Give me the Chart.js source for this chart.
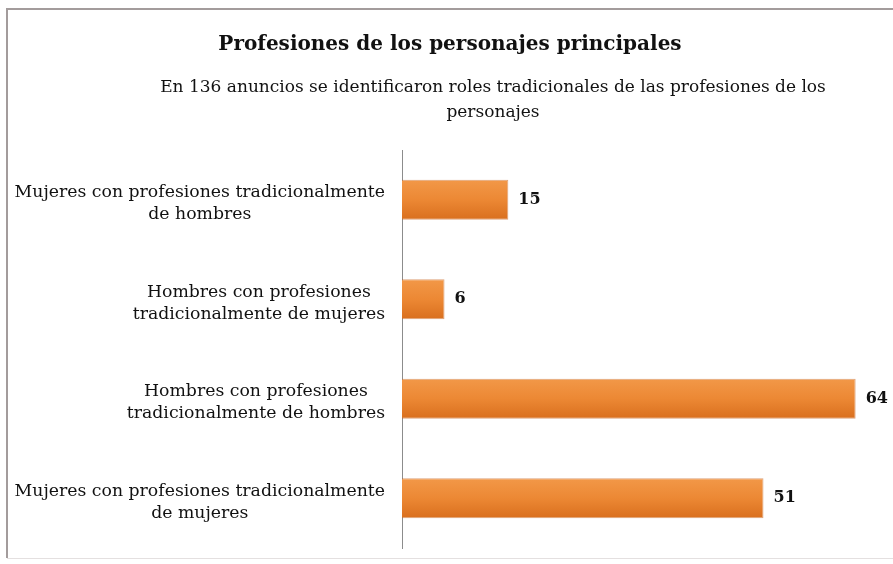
<!DOCTYPE html>
<html>
<head>
<meta charset="utf-8">
<script src="https://cdn.jsdelivr.net/npm/chart.js@4.4.1/dist/chart.umd.min.js"></script>
<style>
    html, body { margin: 0; padding: 0; background: #ffffff; }
    #chart_wrap { position: relative; width: 893px; height: 564px; }
</style>
</head>
<body>
<div id="chart_wrap"><canvas id="prof_chart" width="893" height="564"></canvas></div>
<script>
const category_labels = [
    ['Mujeres con profesiones tradicionalmente', 'de hombres'],
    ['Hombres con profesiones', 'tradicionalmente de mujeres'],
    ['Hombres con profesiones', 'tradicionalmente de hombres'],
    ['Mujeres con profesiones tradicionalmente', 'de mujeres'],
];
const anuncios_values = [15, 6, 64, 51];
const title_text = 'Profesiones de los personajes principales';
const subtitle_lines = [
    'En 136 anuncios se identificaron roles tradicionales de las profesiones de los',
    'personajes',
];

const prof_palette = {
    bar_top: '#f29848',
    bar_mid: '#ec8834',
    bar_bottom: '#d96f1e',
    axis: '#8c8c8c',
    text: '#111111',
    frame: '#a39c9c',
};

const serif_font = '"DejaVu Serif", "Liberation Serif", serif';

// frame, title, subtitle and the two-line category labels
const prof_text_plugin = {
    id: 'prof_text',
    beforeDraw(chart) {
        const ctx = chart.ctx;
        ctx.save();
        ctx.fillStyle = '#ffffff';
        ctx.fillRect(0, 0, chart.width, chart.height);
        ctx.strokeStyle = prof_palette.frame;
        ctx.lineWidth = 2;
        ctx.beginPath();
        ctx.moveTo(893, 9);
        ctx.lineTo(7, 9);
        ctx.lineTo(7, 558);
        ctx.stroke();
        ctx.strokeStyle = '#e4e0e0';
        ctx.lineWidth = 1;
        ctx.beginPath();
        ctx.moveTo(7, 558.5);
        ctx.lineTo(893, 558.5);
        ctx.stroke();
        ctx.restore();
    },
    afterDraw(chart) {
        const ctx = chart.ctx;
        const y_scale = chart.scales.y;
        ctx.save();
        ctx.fillStyle = prof_palette.text;
        ctx.textAlign = 'center';
        ctx.textBaseline = 'middle';

        ctx.font = 'bold 20px ' + serif_font;
        ctx.fillText(title_text, 450, 45);

        ctx.font = '17px ' + serif_font;
        subtitle_lines.forEach(function (line, idx) {
            ctx.fillText(line, 493, 88 + idx * 25);
        });

        ctx.font = '17.3px ' + serif_font;
        category_labels.forEach(function (lines, idx) {
            const center_y = y_scale.getPixelForValue(idx);
            let max_w = 0;
            lines.forEach(function (line) {
                max_w = Math.max(max_w, ctx.measureText(line).width);
            });
            const center_x = 385 - max_w / 2;
            lines.forEach(function (line, line_idx) {
                ctx.fillText(line, center_x, center_y + 4 + (line_idx - 0.5) * 22);
            });
        });

        ctx.font = 'bold 16px ' + serif_font;
        ctx.textAlign = 'left';
        const meta = chart.getDatasetMeta(0);
        meta.data.forEach(function (bar, idx) {
            ctx.fillText(String(anuncios_values[idx]), bar.x + 10, bar.y);
        });
        ctx.restore();
    },
};

function prof_bar_fill(context) {
    const chart = context.chart;
    const y_scale = chart.scales.y;
    if (!y_scale || y_scale.top === undefined) {
        return prof_palette.bar_mid;
    }
    const center_y = y_scale.getPixelForValue(context.dataIndex);
    const half = 20;
    const grad = chart.ctx.createLinearGradient(0, center_y - half, 0, center_y + half);
    grad.addColorStop(0, prof_palette.bar_top);
    grad.addColorStop(0.5, prof_palette.bar_mid);
    grad.addColorStop(1, prof_palette.bar_bottom);
    return grad;
}

new Chart(document.getElementById('prof_chart').getContext('2d'), {
    type: 'bar',
    data: {
        labels: category_labels,
        datasets: [
            {
                label: 'Anuncios',
                data: anuncios_values,
                backgroundColor: prof_bar_fill,
                borderColor: 'rgba(200, 100, 30, 0.6)',
                borderWidth: 1,
                barPercentage: 0.8,
                categoryPercentage: 0.5,
            },
        ],
    },
    options: {
        indexAxis: 'y',
        responsive: false,
        animation: false,
        layout: {
            padding: { left: 394, right: 9, top: 150, bottom: 16 },
        },
        plugins: {
            legend: { display: false },
            title: { display: false },
            tooltip: { enabled: false },
        },
        scales: {
            x: {
                display: false,
                min: 0,
                max: 68,
            },
            y: {
                display: true,
                ticks: { display: false },
                grid: { display: false },
                border: { display: true, color: prof_palette.axis, width: 1 },
            },
        },
    },
    plugins: [prof_text_plugin],
});
</script>
</body>
</html>
